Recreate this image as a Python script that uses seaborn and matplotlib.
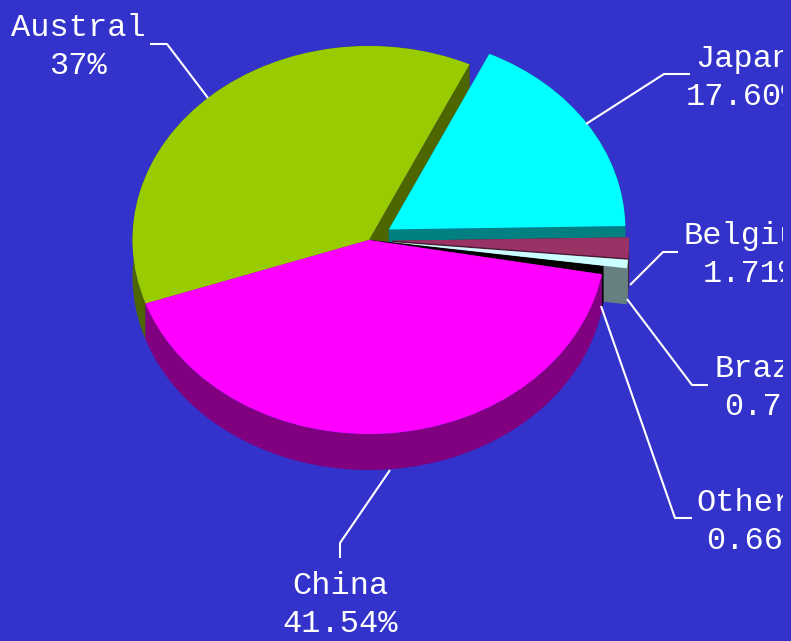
import numpy as np
import seaborn as sns
import matplotlib.pyplot as plt
from matplotlib.transforms import Bbox

labels = ['Japan', 'Austral', 'China', 'Others', 'Brazil', 'Belgium']
values = [17.60, 37.00, 41.54, 0.66, 0.70, 1.71]
value_labels = ['17.60%', '37%', '41.54%', '0.66%', '0.70%', '1.71%']
explode = [0.1, 0, 0, 0, 0.1, 0.1]
top_colors = ['#00FFFF', '#99CC00', '#FF00FF', '#000000', '#CCFFFF', '#993366']
side_colors = ['#008080', '#4D6600', '#800080', '#000000', '#668080', '#4D1A33']
draw_order = [1, 0, 5, 4, 3, 2]

BG = '#3333CC'
W, H = 791, 641
# pie centre and radii in pixels, depth of the rim
CX, CY, RX, RY, DEPTH = 369, 240, 236.5, 194, 36
TEXT_RIGHT = 783  # the labels are cut here in the reference

# label centre and leader line, in pixels
label_pos = [(743, 78), (78, 47), (340, 605), (754, 522), (772, 388), (751, 255)]
leaders = [
    [(586, 124), (664, 74), (690, 74)],
    [(208, 98), (167, 44), (150, 44)],
    [(390, 470), (340, 543), (340, 558)],
    [(601, 306), (675, 518), (692, 518)],
    [(627, 299), (692, 385), (708, 385)],
    [(630, 285), (663, 252), (678, 252)],
]

sns.set_theme(style='white', rc={'figure.facecolor': BG, 'axes.facecolor': BG})
plt.rcParams['font.family'] = ['Liberation Mono', 'DejaVu Sans']

fig = plt.figure(figsize=(W / 100, H / 100), dpi=100)
ax = fig.add_axes([0, 0, 1, 1])

wedges, _ = ax.pie(values, explode=explode, startangle=1, counterclock=True,
                   colors=sns.color_palette(top_colors), radius=1,
                   wedgeprops={'linewidth': 0})
ax.set_aspect('auto')
ax.set_xlim(-CX / RX, (W - CX) / RX)
ax.set_ylim((CY - H) / RY, CY / RY)
ax.axis('off')


def px(x, y):
    return (x - CX) / RX, (CY - y) / RY


drop = DEPTH / RY
for z, i in enumerate(draw_order):
    w = wedges[i]
    w.set_zorder(20 + z)
    cx, cy = w.center
    t = np.radians(np.linspace(w.theta1, w.theta2, 90))
    arc_x = cx + np.cos(t)
    arc_y = cy + np.sin(t)
    # rim and the two cut faces, the tops are painted over them afterwards
    parts = [
        (arc_x, arc_y),
        (np.array([cx, arc_x[0]]), np.array([cy, arc_y[0]])),
        (np.array([cx, arc_x[-1]]), np.array([cy, arc_y[-1]])),
    ]
    for xs, ys in parts:
        ax.fill(np.r_[xs, xs[::-1]], np.r_[ys, ys[::-1] - drop],
                color=side_colors[i], linewidth=0, zorder=1 + z / 10)

clip = Bbox([[0, 0], [TEXT_RIGHT, H]])
for i, name in enumerate(labels):
    xs, ys = zip(*[px(*p) for p in leaders[i]])
    ax.plot(xs, ys, color='white', lw=1.5, zorder=40, solid_capstyle='butt')
    tx, ty = px(*label_pos[i])
    txt = ax.text(tx, ty, name + '\n' + value_labels[i], color='white', fontsize=23,
                  ha='center', va='center', linespacing=1.33, zorder=41)
    txt.set_clip_on(True)
    txt.set_clip_box(clip)

plt.savefig('out.png', dpi=100, facecolor=BG)
